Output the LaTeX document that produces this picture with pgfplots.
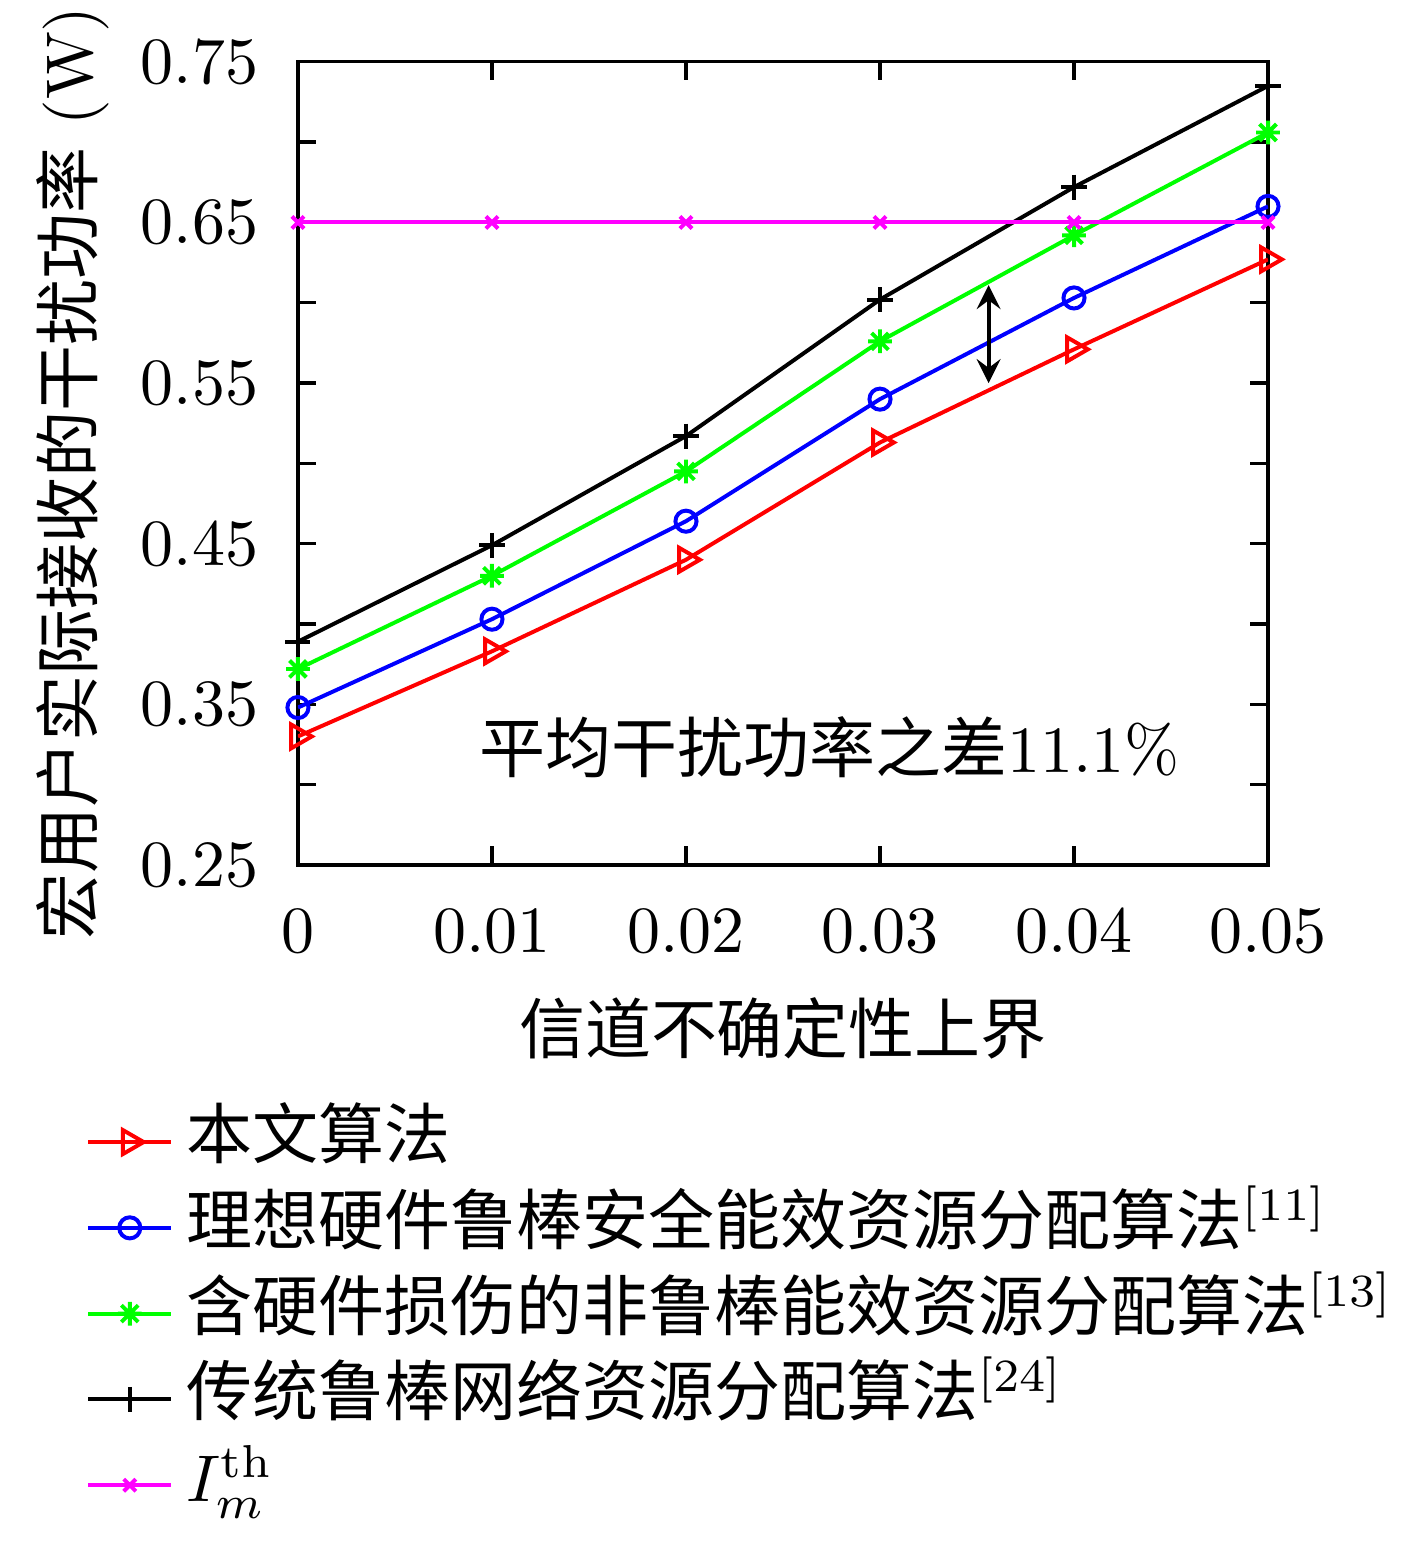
\documentclass[border=0pt]{standalone}
\usepackage{fontspec}
\usepackage{pgfplots}
\pgfplotsset{compat=1.18}
\newfontfamily\cjk{Noto Sans CJK SC}
\pgfdeclareplotmark{asteriskeight}{%
  \pgfpathmoveto{\pgfqpoint{-\pgfplotmarksize}{0pt}}\pgfpathlineto{\pgfqpoint{\pgfplotmarksize}{0pt}}%
  \pgfpathmoveto{\pgfqpoint{0pt}{-\pgfplotmarksize}}\pgfpathlineto{\pgfqpoint{0pt}{\pgfplotmarksize}}%
  \pgfpathmoveto{\pgfqpoint{-0.707\pgfplotmarksize}{-0.707\pgfplotmarksize}}\pgfpathlineto{\pgfqpoint{0.707\pgfplotmarksize}{0.707\pgfplotmarksize}}%
  \pgfpathmoveto{\pgfqpoint{-0.707\pgfplotmarksize}{0.707\pgfplotmarksize}}\pgfpathlineto{\pgfqpoint{0.707\pgfplotmarksize}{-0.707\pgfplotmarksize}}%
  \pgfusepathqstroke}
\definecolor{cred}{RGB}{255,0,0}
\definecolor{cblue}{RGB}{0,0,255}
\definecolor{cgreen}{RGB}{0,255,0}
\definecolor{cmag}{RGB}{255,0,255}
\begin{document}
\begin{tikzpicture}
\path[use as bounding box] (-45.15pt,-102.9pt) rectangle (169.5pt,131.06pt);
\begin{axis}[
  scale only axis, width=147pt, height=121.7pt,
  xmin=0, xmax=0.05, ymin=0.25, ymax=0.75,
  xtick={0,0.01,0.02,0.03,0.04,0.05},
  xticklabels={0,0.01,0.02,0.03,0.04,0.05},
  ytick={0.25,0.30,0.35,0.40,0.45,0.50,0.55,0.60,0.65,0.70,0.75},
  yticklabels={0.25,,0.35,,0.45,,0.55,,0.65,,0.75},
  scaled x ticks=false, scaled y ticks=false,
  tick align=inside, major tick length=2.8pt,
  axis line style={line width=0.5pt},
  every tick/.style={line width=0.5pt, black},
  xticklabel style={yshift=-3pt},
  yticklabel style={xshift=-2.5pt},
  xlabel={\cjk 信道不确定性上界},
  ylabel={{\cjk 宏用户实际接收的干扰功率} (W)},
  xlabel style={at={(axis description cs:0.5,-0.203)}, anchor=center},
  ylabel style={at={(axis description cs:-0.232,0.488)}, anchor=center},
  legend style={at={(axis description cs:-0.2196,-0.29)}, anchor=north west, draw=none, fill=none,
     inner sep=0pt, row sep=0pt,
     nodes={anchor=west, text height=8pt, text depth=3pt, inner xsep=2pt, inner ysep=1pt}},
  legend cell align=left,
  legend image code/.code={\draw[mark repeat=2,mark phase=2] plot coordinates {(0pt,0pt)(6.3pt,0pt)(12.6pt,0pt)};},
  every axis plot/.append style={line width=0.6pt},
]
\addplot[cred, mark=triangle, mark size=2.1pt, mark options={rotate=-90, solid}] coordinates {
 (0,0.330) (0.01,0.383) (0.02,0.440) (0.03,0.513) (0.04,0.571) (0.05,0.627)};
\addlegendentry{\cjk 本文算法}
\addplot[cblue, mark=o, mark size=1.6pt] coordinates {
 (0,0.348) (0.01,0.403) (0.02,0.464) (0.03,0.540) (0.04,0.603) (0.05,0.660)};
\addlegendentry{{\cjk 理想硬件鲁棒安全能效资源分配算法}\textsuperscript{[11]}}
\addplot[cgreen, mark=asteriskeight, mark size=1.8pt] coordinates {
 (0,0.372) (0.01,0.430) (0.02,0.495) (0.03,0.576) (0.04,0.642) (0.05,0.706)};
\addlegendentry{{\cjk 含硬件损伤的非鲁棒能效资源分配算法}\textsuperscript{[13]}}
\addplot[black, mark=+, mark size=1.9pt] coordinates {
 (0,0.389) (0.01,0.449) (0.02,0.517) (0.03,0.602) (0.04,0.672) (0.05,0.735)};
\addlegendentry{{\cjk 传统鲁棒网络资源分配算法}\textsuperscript{[24]}}
\addplot[cmag, mark=x, mark size=1.3pt] coordinates {
 (0,0.65) (0.01,0.65) (0.02,0.65) (0.03,0.65) (0.04,0.65) (0.05,0.65)};
\addlegendentry{$I_m^{\mathrm{th}}$}
\draw[<->, >=stealth, line width=0.6pt] (axis cs:0.0356,0.611) -- (axis cs:0.0356,0.550);
\node at (axis cs:0.0274,0.323) {{\cjk 平均干扰功率之差}11.1\%};
\end{axis}
\end{tikzpicture}
\end{document}
